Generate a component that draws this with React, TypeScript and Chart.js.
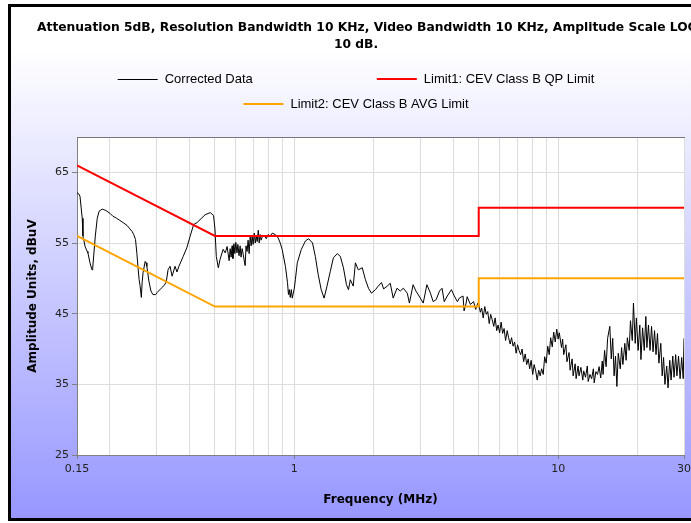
import React, { useEffect, useRef } from 'react';
import { Chart, registerables } from 'chart.js';

Chart.register(...registerables);

const TITLE_LINE_1 = 'Attenuation 5dB, Resolution Bandwidth 10 KHz, Video Bandwidth 10 KHz, Amplitude Scale LOG';
const TITLE_LINE_2 = '10 dB.';
const X_TITLE = 'Frequency (MHz)';
const Y_TITLE = 'Amplitude Units, dBuV';

const SERIES_LABELS = ['Corrected Data', 'Limit1: CEV Class B QP Limit', 'Limit2: CEV Class B AVG Limit'];
const SERIES_COLORS = ['#000000', '#ff0000', '#ffa500'];

const X_GRID_TICKS = [0.15, 0.2, 0.3, 0.4, 0.5, 0.6, 0.7, 0.8, 0.9, 1, 2, 3, 4, 5, 6, 7, 8, 9, 10, 20, 30];
const X_LABELED = [0.15, 1, 10, 30];
const Y_TICKS = [25, 35, 45, 55, 65];

// Limit lines
const QP_FREQ = [0.15, 0.5, 5, 5, 30];
const QP_LEVEL = [66, 56, 56, 60, 60];
const AVG_FREQ = [0.15, 0.5, 5, 5, 30];
const AVG_LEVEL = [56, 46, 46, 50, 50];

// Corrected data, 0.15 - 0.56 MHz
const SEG1_FREQ = [0.150, 0.152, 0.154, 0.157, 0.158, 0.161, 0.164, 0.165, 0.168, 0.171, 0.172, 0.176, 0.179, 0.182, 0.187, 0.193, 0.200, 0.205, 0.212, 0.218, 0.226, 0.232, 0.238, 0.243, 0.246, 0.250, 0.253, 0.256, 0.258, 0.260, 0.263, 0.265, 0.267, 0.272, 0.274, 0.276, 0.281, 0.286, 0.291, 0.298, 0.302, 0.313, 0.321, 0.327, 0.332, 0.338, 0.344, 0.353, 0.359, 0.365, 0.379, 0.391, 0.403, 0.415, 0.428, 0.439, 0.459, 0.480, 0.494, 0.500, 0.506, 0.515, 0.523, 0.537, 0.547, 0.556];
const SEG1_LEVEL = [62.1, 62.0, 61.6, 58.5, 56.0, 54.5, 53.8, 53.6, 52.2, 51.2, 51.4, 56.0, 58.5, 59.5, 59.8, 59.6, 59.2, 58.8, 58.5, 58.2, 57.8, 57.5, 57.0, 56.6, 56.2, 55.5, 53.5, 51.2, 49.8, 49.0, 47.3, 49.5, 50.8, 52.4, 52.2, 51.7, 49.6, 48.2, 47.7, 47.7, 48.0, 48.6, 49.0, 49.5, 51.2, 51.7, 50.3, 51.7, 50.9, 51.7, 53.1, 54.3, 56.0, 57.6, 57.9, 58.3, 59.0, 59.3, 58.9, 57.0, 53.1, 51.5, 52.7, 54.1, 53.6, 54.5];

// 0.56 - 1.9 MHz
const SEG2_FREQ = [0.566, 0.571, 0.576, 0.581, 0.585, 0.590, 0.595, 0.600, 0.606, 0.611, 0.617, 0.623, 0.628, 0.634, 0.640, 0.645, 0.651, 0.656, 0.662, 0.668, 0.674, 0.680, 0.686, 0.692, 0.698, 0.705, 0.711, 0.717, 0.723, 0.730, 0.736, 0.742, 0.748, 0.755, 0.768, 0.783, 0.796, 0.810, 0.825, 0.847, 0.869, 0.884, 0.899, 0.925, 0.942, 0.950, 0.957, 0.965, 0.974, 0.982, 0.991, 1.000, 1.009, 1.026, 1.063, 1.102, 1.133, 1.172, 1.201, 1.232, 1.264, 1.297, 1.330, 1.369, 1.406, 1.455, 1.494, 1.535, 1.576, 1.604, 1.630, 1.672, 1.704, 1.748, 1.809, 1.860, 1.910];
const SEG2_LEVEL = [52.5, 54.2, 53.0, 54.6, 52.8, 54.9, 53.5, 55.1, 53.6, 54.8, 53.2, 54.6, 53.0, 54.2, 53.4, 52.6, 51.8, 54.6, 53.8, 55.4, 53.5, 55.9, 54.6, 56.0, 54.8, 56.4, 55.0, 56.0, 55.2, 56.8, 55.0, 56.2, 55.4, 55.8, 56.1, 55.6, 56.2, 56.0, 56.4, 56.2, 55.7, 55.0, 54.1, 51.7, 49.4, 47.7, 48.4, 47.3, 48.4, 47.2, 47.9, 48.6, 49.8, 52.2, 54.1, 55.3, 55.6, 55.0, 53.1, 50.5, 48.4, 47.2, 48.9, 51.0, 52.9, 53.5, 53.1, 51.5, 49.1, 48.4, 49.8, 48.9, 52.2, 51.2, 51.5, 49.8, 48.6];

// 1.96 - 4.96 MHz
const SEG3_FREQ = [1.96, 2.03, 2.08, 2.14, 2.18, 2.25, 2.31, 2.37, 2.45, 2.52, 2.59, 2.68, 2.73, 2.82, 2.89, 2.97, 3.08, 3.18, 3.28, 3.36, 3.45, 3.55, 3.63, 3.70, 3.80, 3.94, 4.04, 4.15, 4.22, 4.36, 4.40, 4.48, 4.52, 4.65, 4.78, 4.87, 4.96];
const SEG3_LEVEL = [47.9, 48.4, 48.9, 49.4, 48.5, 48.9, 49.3, 47.2, 48.6, 48.2, 48.6, 47.9, 46.5, 49.1, 48.2, 47.5, 46.5, 49.1, 47.9, 46.7, 47.0, 48.2, 48.6, 46.7, 47.5, 48.4, 47.5, 46.7, 47.2, 47.5, 45.4, 46.5, 47.4, 46.3, 46.7, 45.6, 46.5];

// 5 - 30 MHz
const SEG4_FREQ = [5.00, 5.07, 5.13, 5.20, 5.27, 5.34, 5.41, 5.48, 5.55, 5.62, 5.70, 5.77, 5.85, 5.92, 6.00, 6.08, 6.16, 6.24, 6.32, 6.41, 6.49, 6.58, 6.66, 6.75, 6.84, 6.93, 7.02, 7.11, 7.21, 7.30, 7.40, 7.50, 7.60, 7.70, 7.80, 7.90, 8.01, 8.11, 8.22, 8.33, 8.44, 8.55, 8.66, 8.78, 8.89, 9.01, 9.13, 9.25, 9.37, 9.50, 9.62, 9.75, 9.88, 10.0, 10.1, 10.3, 10.4, 10.5, 10.7, 10.8, 11.0, 11.1, 11.3, 11.4, 11.6, 11.7, 11.9, 12.0, 12.2, 12.4, 12.5, 12.7, 12.9, 13.0, 13.2, 13.4, 13.6, 13.7, 13.9, 14.1, 14.3, 14.5, 14.7, 14.8, 15.0, 15.2, 15.4, 15.7, 15.9, 16.1, 16.3, 16.5, 16.7, 16.9, 17.2, 17.4, 17.6, 17.9, 18.1, 18.3, 18.6, 18.8, 19.1, 19.3, 19.6, 19.8, 20.1, 20.4, 20.6, 20.9, 21.2, 21.5, 21.7, 22.0, 22.3, 22.6, 22.9, 23.2, 23.5, 23.8, 24.1, 24.5, 24.8, 25.1, 25.4, 25.8, 26.1, 26.5, 26.8, 27.2, 27.5, 27.9, 28.2, 28.6, 29.0, 29.4, 29.8, 30.0];
const SEG4_LEVEL = [
  46.4, 45.2, 45.8, 44.4, 46.0, 44.9, 45.3, 43.6, 44.9, 44.2, 43.2, 44.4, 42.6, 43.4,
  42.3, 43.8, 42.2, 42.9, 41.2, 42.6, 41.6, 40.7, 41.6, 40.4, 41.0, 39.4, 40.6, 39.8,
  39.2, 40.0, 38.2, 39.3, 37.8, 38.6, 37.2, 38.4, 36.4, 37.8, 36.9, 35.6, 37.0, 36.2,
  37.2, 36.4, 38.9, 38.0, 40.4, 39.2, 41.6, 40.3, 42.4, 41.0, 42.8, 41.4,
  42.3, 40.2, 41.4, 39.2, 40.6, 38.2, 39.5, 37.0, 38.6, 36.2, 37.9, 35.8, 37.6,
  36.2, 37.4, 35.6, 36.9, 36.0, 37.6, 35.4, 36.4, 35.8, 37.2, 35.2, 36.8, 36.4, 37.5, 35.9, 38.3,
  36.4, 39.8, 37.5, 41.5, 43.2, 38.6, 41.5, 36.2, 39.0, 34.7, 39.4, 37.2, 40.2, 37.8, 40.8, 38.4, 41.6,
  39.8, 44.0, 41.2, 46.5, 40.8, 44.4, 39.8, 43.4, 38.5, 43.0, 39.8, 44.6, 40.2, 43.4, 39.8, 43.2, 39.6, 42.6, 39.2, 42.2, 38.0, 40.8,
  36.2, 38.8, 35.0, 37.6, 34.5, 38.4, 35.6, 39.0, 36.0, 39.2, 36.2, 39.0, 35.8, 38.8, 35.8, 41.5,
];

const CANVAS_W = 712;
const CANVAS_H = 523;

function toPoints(freqs: number[], levels: number[]) {
  return freqs.map((f, i) => ({ x: f, y: levels[i] }));
}

const decorPlugin = {
  id: 'decor',
  beforeDraw(chart: any) {
    const ctx = chart.ctx as CanvasRenderingContext2D;
    const { width, height } = chart;
    const a = chart.chartArea;
    ctx.save();
    ctx.fillStyle = '#ffffff';
    ctx.fillRect(0, 0, width, height);
    ctx.fillStyle = '#000000';
    ctx.fillRect(8, 4, 696, 517);
    const g = ctx.createLinearGradient(0, 50, 0, 518);
    g.addColorStop(0, '#ffffff');
    g.addColorStop(1, '#9797ff');
    ctx.fillStyle = g;
    ctx.fillRect(11, 7, 690, 511);
    ctx.fillStyle = '#ffffff';
    ctx.fillRect(a.left, a.top, a.right - a.left, a.bottom - a.top);
    ctx.restore();
  },
  afterDraw(chart: any) {
    const ctx = chart.ctx as CanvasRenderingContext2D;
    const a = chart.chartArea;
    ctx.save();
    ctx.strokeStyle = '#777777';
    ctx.lineWidth = 1;
    ctx.beginPath();
    ctx.moveTo(a.left, a.top + 0.5);
    ctx.lineTo(a.right + 1, a.top + 0.5);
    ctx.stroke();

    ctx.fillStyle = '#000000';
    ctx.font = 'bold 12.3px "DejaVu Sans"';
    ctx.textBaseline = 'middle';
    ctx.textAlign = 'left';
    ctx.fillText(TITLE_LINE_1, 37, 28);
    ctx.textAlign = 'center';
    ctx.fillText(TITLE_LINE_2, 356, 45);

    ctx.font = '13px "Liberation Sans"';
    ctx.textAlign = 'left';
    const rows = [[0, 1], [2]];
    const rowY = [79, 104];
    const gap = 124;
    const center = 356;
    rows.forEach((row, r) => {
      const widths = row.map((i) => 47 + ctx.measureText(SERIES_LABELS[i]).width);
      const total = widths.reduce((s, w) => s + w, 0) + gap * (row.length - 1);
      let x = center - total / 2;
      row.forEach((i, k) => {
        const ds = chart.data.datasets[i];
        ctx.strokeStyle = ds.borderColor;
        ctx.lineWidth = ds.borderWidth;
        const y = rowY[r] + (ds.borderWidth === 1 ? 0.5 : 0);
        ctx.beginPath();
        ctx.moveTo(x, y);
        ctx.lineTo(x + 40, y);
        ctx.stroke();
        ctx.fillStyle = '#000000';
        ctx.fillText(SERIES_LABELS[i], x + 47, rowY[r]);
        x += widths[k] + gap;
      });
    });
    ctx.restore();
  },
};

export default function App() {
  const ref = useRef<HTMLCanvasElement | null>(null);

  useEffect(() => {
    if (!ref.current) return;
    const trace = [
      ...toPoints(SEG1_FREQ, SEG1_LEVEL),
      ...toPoints(SEG2_FREQ, SEG2_LEVEL),
      ...toPoints(SEG3_FREQ, SEG3_LEVEL),
      ...toPoints(SEG4_FREQ, SEG4_LEVEL),
    ];
    const tickFont = { family: 'DejaVu Sans', size: 11 };
    const chart = new Chart(ref.current, {
      type: 'line',
      data: {
        datasets: [
          {
            label: SERIES_LABELS[0],
            data: trace,
            borderColor: SERIES_COLORS[0],
            backgroundColor: SERIES_COLORS[0],
            borderWidth: 1,
            pointRadius: 0,
            tension: 0,
            order: 3,
          },
          {
            label: SERIES_LABELS[1],
            data: toPoints(QP_FREQ, QP_LEVEL),
            borderColor: SERIES_COLORS[1],
            backgroundColor: SERIES_COLORS[1],
            borderWidth: 2,
            pointRadius: 0,
            tension: 0,
            order: 1,
          },
          {
            label: SERIES_LABELS[2],
            data: toPoints(AVG_FREQ, AVG_LEVEL),
            borderColor: SERIES_COLORS[2],
            backgroundColor: SERIES_COLORS[2],
            borderWidth: 2,
            pointRadius: 0,
            tension: 0,
            order: 2,
          },
        ],
      },
      options: {
        responsive: false,
        animation: false,
        devicePixelRatio: 1,
        layout: { padding: { top: 137, right: CANVAS_W - 684, left: 0, bottom: 0 } },
        plugins: {
          legend: { display: false },
          title: { display: false },
          tooltip: { enabled: false },
        },
        scales: {
          x: {
            type: 'logarithmic',
            min: 0.15,
            max: 30,
            afterBuildTicks: (s: any) => {
              s.ticks = X_GRID_TICKS.map((v) => ({ value: v }));
            },
            afterFit: (s: any) => {
              s.height = CANVAS_H - 455;
            },
            ticks: {
              autoSkip: false,
              maxRotation: 0,
              minRotation: 0,
              padding: 4,
              color: '#222222',
              font: tickFont,
              callback: (v: any) => (X_LABELED.includes(Number(v)) ? String(v) : ''),
            },
            grid: {
              color: (c: any) => (c.tick && c.tick.value === 0.15 ? 'rgba(0,0,0,0)' : '#dcdcdc'),
              tickLength: 4,
              tickColor: (c: any) => (c.tick && X_LABELED.includes(c.tick.value) ? '#808080' : 'rgba(0,0,0,0)'),
            },
            border: { color: '#808080' },
            title: {
              display: true,
              text: X_TITLE,
              color: '#000000',
              font: { family: 'DejaVu Sans', size: 12, weight: 'bold' },
              padding: { top: 0, bottom: 16 },
            },
          },
          y: {
            type: 'linear',
            min: 25,
            max: 70,
            afterBuildTicks: (s: any) => {
              s.ticks = Y_TICKS.map((v) => ({ value: v }));
            },
            afterFit: (s: any) => {
              s.width = 77;
            },
            ticks: {
              padding: 3,
              color: '#222222',
              font: tickFont,
            },
            grid: {
              color: (c: any) => (c.tick && c.tick.value === 25 ? 'rgba(0,0,0,0)' : '#dcdcdc'),
              tickLength: 5,
              tickColor: '#808080',
            },
            border: { color: '#808080' },
            title: {
              display: true,
              text: Y_TITLE,
              color: '#000000',
              font: { family: 'DejaVu Sans', size: 12, weight: 'bold' },
              padding: { top: 26, bottom: 0 },
            },
          },
        },
      },
      plugins: [decorPlugin],
    } as any);
    return () => chart.destroy();
  }, []);

  return (
    <div
      style={{
        position: 'fixed',
        left: 0,
        top: 0,
        width: 691,
        height: 523,
        overflow: 'hidden',
        background: '#ffffff',
      }}
    >
      <canvas ref={ref} width={CANVAS_W} height={CANVAS_H} style={{ display: 'block', width: CANVAS_W, height: CANVAS_H }} />
    </div>
  );
}
